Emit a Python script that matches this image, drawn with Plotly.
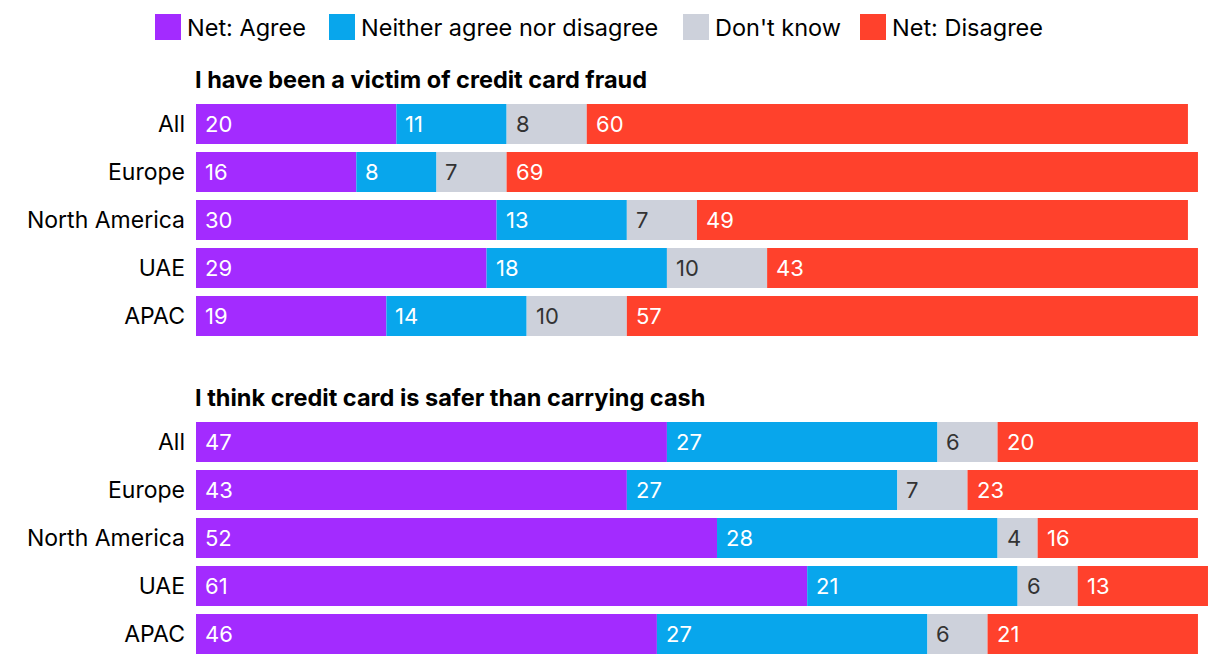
import plotly.graph_objects as go

regions = ["All", "Europe", "North America", "UAE", "APAC"]
series = ["Net: Agree", "Neither agree nor disagree", "Don't know", "Net: Disagree"]
colors = ["#A32BFF", "#08A6EC", "#CDD1DB", "#FF412C"]
text_colors = ["white", "white", "#333333", "white"]

titles = ["I have been a victim of credit card fraud",
          "I think credit card is safer than carrying cash"]

fraud_agree = [20, 16, 30, 29, 19]
fraud_neither = [11, 8, 13, 18, 14]
fraud_dontknow = [8, 7, 7, 10, 10]
fraud_disagree = [60, 69, 49, 43, 57]

safer_agree = [47, 43, 52, 61, 46]
safer_neither = [27, 27, 28, 21, 27]
safer_dontknow = [6, 7, 4, 6, 6]
safer_disagree = [20, 23, 16, 13, 21]

panels = [
    [fraud_agree, fraud_neither, fraud_dontknow, fraud_disagree],
    [safer_agree, safer_neither, safer_dontknow, safer_disagree],
]

FONT = "Inter"
FS = 23
W, H = 1220, 666
L = 196
fig = go.Figure()
annotations = []
shapes = []

for p, data in enumerate(panels):
    xa = "x" if p == 0 else "x2"
    ya = "y" if p == 0 else "y2"
    base = [0] * len(regions)
    for s, vals in enumerate(data):
        fig.add_trace(go.Bar(
            y=regions, x=vals, base=base, orientation="h",
            marker=dict(color=colors[s], line=dict(width=0)),
            name=series[s], showlegend=False,
            xaxis=xa, yaxis=ya,
            hovertemplate="%{y}: %{x}<extra>" + series[s] + "</extra>",
        ))
        for r, v in enumerate(vals):
            annotations.append(dict(
                x=base[r], y=regions[r], xref=xa, yref=ya,
                text=str(v), showarrow=False, xanchor="left", yanchor="middle",
                xshift=7, font=dict(family=FONT, size=FS - 1, color=text_colors[s]),
            ))
        base = [b + v for b, v in zip(base, vals)]

# panel titles
for p, ypix in enumerate([79, 397]):
    annotations.append(dict(
        x=0, y=1 - ypix / H, xref="paper", yref="paper",
        text="<b>" + titles[p] + "</b>", showarrow=False,
        xanchor="left", yanchor="middle", xshift=-3,
        font=dict(family=FONT, size=23.5, color="black", weight=900),
    ))

# legend (manual, large square swatches)
leg_x = [155, 329, 683, 860]
for s in range(4):
    x0 = (leg_x[s] - L) / (W - L)
    x1 = (leg_x[s] + 26 - L) / (W - L)
    shapes.append(dict(
        type="rect", xref="paper", yref="paper",
        x0=x0, x1=x1, y0=1 - 40 / H, y1=1 - 14 / H,
        fillcolor=colors[s], line=dict(width=0),
    ))
    annotations.append(dict(
        x=x1, y=1 - 27 / H, xref="paper", yref="paper",
        text=series[s], showarrow=False, xanchor="left", yanchor="middle",
        xshift=4, font=dict(family=FONT, size=23.5, color="black"),
    ))

d1 = [1 - 340 / H, 1 - 100 / H]
d2 = [1 - 658 / H, 1 - 418 / H]

axis_x = dict(range=[0, 102.2], showgrid=False, zeroline=False,
              showticklabels=False, showline=False, fixedrange=True)
axis_y = dict(autorange="reversed", showgrid=False, zeroline=False, showline=False,
              ticks="", ticklabelstandoff=10,
              tickfont=dict(family=FONT, size=FS, color="black"))

fig.update_layout(
    width=W, height=H,
    margin=dict(l=L, r=0, t=0, b=0),
    paper_bgcolor="white", plot_bgcolor="white",
    barmode="overlay", bargap=8 / 48,
    xaxis=dict(domain=[0, 1], anchor="y", **axis_x),
    yaxis=dict(domain=d1, anchor="x", **axis_y),
    xaxis2=dict(domain=[0, 1], anchor="y2", **axis_x),
    yaxis2=dict(domain=d2, anchor="x2", **axis_y),
    annotations=annotations, shapes=shapes,
    showlegend=False,
    font=dict(family=FONT),
)

fig.write_html("out.html")
